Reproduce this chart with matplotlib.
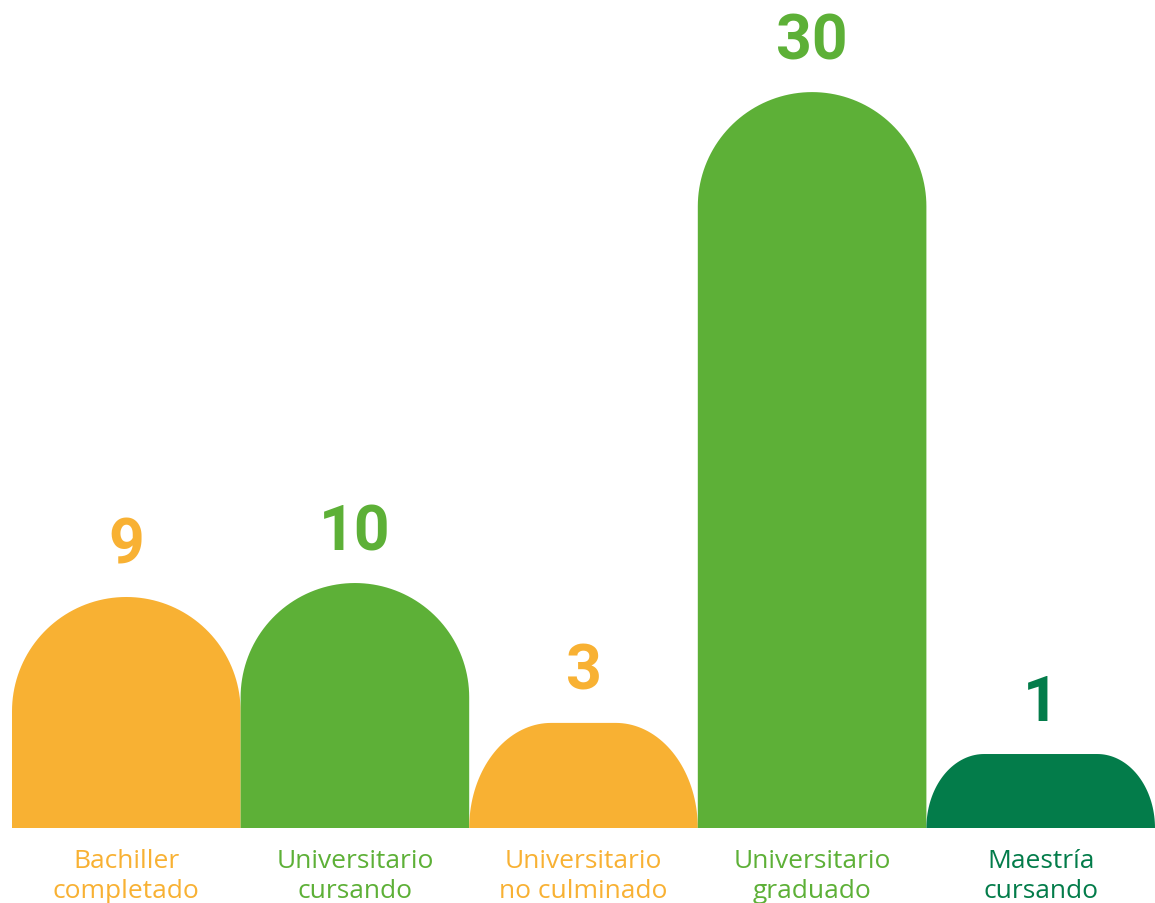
import numpy as np
import matplotlib
matplotlib.use('Agg')
import matplotlib.pyplot as plt
from matplotlib.patches import Polygon

# data
categories = ["Bachiller\ncompletado", "Universitario\ncursando", "Universitario\nno culminado",
              "Universitario\ngraduado", "Maestría\ncursando"]
values = [9, 10, 3, 30, 1]
# bar heights as drawn in the picture (small bars are padded for the rounded cap)
drawn_heights = [9.43, 10.0, 4.29, 30.04, 3.02]
colors = ["#F8B133", "#5DB037", "#F8B133", "#5DB037", "#037C4A"]

W, H = 1155, 904
fig = plt.figure(figsize=(W / 100, H / 100), dpi=100)
ax = fig.add_axes([12 / W, 75 / H, 1 - 12 / W, 1 - 75 / H])
ax.set_xlim(-0.5, len(values) - 0.5)
ax.set_ylim(0, 33.84)
ax.axis('off')

# pixels per data unit, so the caps can be drawn round on screen
px_x = ax.bbox.width / 5.0
px_y = ax.bbox.height / 33.84


def capped_bar(x, h, col, w=1.0):
    half = w * px_x / 2
    hp = h * px_y
    ry = min(hp, half)
    rx = half if hp >= half else 0.78 * ry
    rxd, ryd = rx / px_x, ry / px_y
    left, right = x - w / 2, x + w / 2
    t = np.linspace(0, np.pi / 2, 40)
    # right corner goes from the side up to the top, left corner back down
    rc = np.column_stack([right - rxd + rxd * np.cos(t), h - ryd + ryd * np.sin(t)])
    lc = np.column_stack([left + rxd - rxd * np.cos(t[::-1]), h - ryd + ryd * np.sin(t[::-1])])
    pts = np.vstack([[left, 0], [right, 0], rc, lc, [left, 0]])
    return Polygon(pts, closed=True, facecolor=col, edgecolor='none', antialiased=True)


for i, (v, h, col, cat) in enumerate(zip(values, drawn_heights, colors, categories)):
    ax.add_patch(capped_bar(i, h, col))
    ax.annotate(str(v), xy=(i, h), xytext=(0, 34), textcoords='offset pixels',
                ha='center', va='baseline', color=col, fontsize=45,
                fontweight='bold', family='Roboto')
    for k, line in enumerate(cat.split('\n')):
        ax.annotate(line, xy=(i, 0), xytext=(0, -39 - 30 * k), textcoords='offset pixels',
                    ha='center', va='baseline', color=col, fontsize=19,
                    family='Open Sans')

fig.savefig('out.png', dpi=100, facecolor='white')
